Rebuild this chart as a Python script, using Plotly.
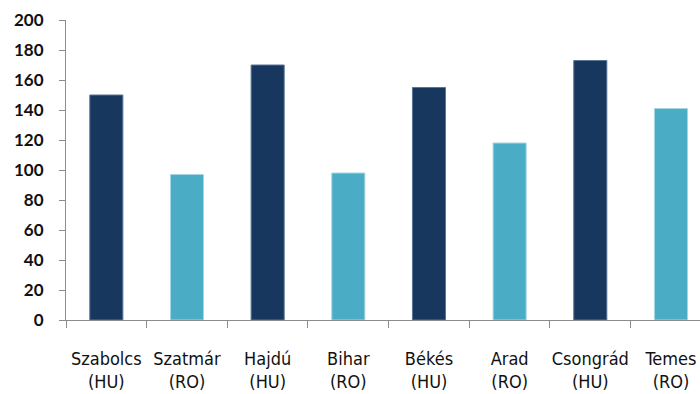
import plotly.graph_objects as go

# County names and country codes
counties = ["Szabolcs", "Szatmár", "Hajdú", "Bihar", "Békés", "Arad", "Csongrád", "Temes"]
countries = ["HU", "RO", "HU", "RO", "HU", "RO", "HU", "RO"]
values = [150, 97, 170, 98, 155, 118, 173, 141]

y_ticks = [0, 20, 40, 60, 80, 100, 120, 140, 160, 180, 200]

colors_by_country = {"HU": "#17375E", "RO": "#4BACC6"}
outline_by_country = {"HU": "#5a7496", "RO": "#a5d6e4"}

labels = [f"{c}<br>({k})" for c, k in zip(counties, countries)]

fig = go.Figure(
    go.Bar(
        x=labels,
        y=values,
        width=0.41,
        marker=dict(
            color=[colors_by_country[k] for k in countries],
            line=dict(color=[outline_by_country[k] for k in countries], width=1),
        ),
        hoverinfo="x+y",
    )
)

fig.update_layout(
    width=700,
    height=394,
    margin=dict(l=66, r=0, t=20, b=74, autoexpand=False),
    paper_bgcolor="white",
    plot_bgcolor="white",
    showlegend=False,
    bargap=0.59,
)

fig.update_xaxes(
    range=[-0.5, 7.36],
    showline=True,
    linecolor="#8c8c8c",
    linewidth=1,
    ticks="outside",
    ticklen=7,
    tickcolor="#8c8c8c",
    tickson="boundaries",
    tickangle=0,
    showgrid=False,
    zeroline=False,
    tickfont=dict(family="DejaVu Sans Condensed, Liberation Sans, sans-serif", size=18, color="#111111"),
    ticklabelstandoff=22,
    automargin=False,
)

fig.update_yaxes(
    range=[0, 200],
    tickvals=y_ticks,
    showline=True,
    linecolor="#8c8c8c",
    linewidth=1,
    ticks="outside",
    ticklen=6,
    tickcolor="#8c8c8c",
    showgrid=False,
    zeroline=False,
    tickfont=dict(family="Lato, sans-serif", size=17, color="#111111", weight="bold"),
    ticklabelstandoff=12,
    automargin=False,
)

fig.write_html("out.html")
